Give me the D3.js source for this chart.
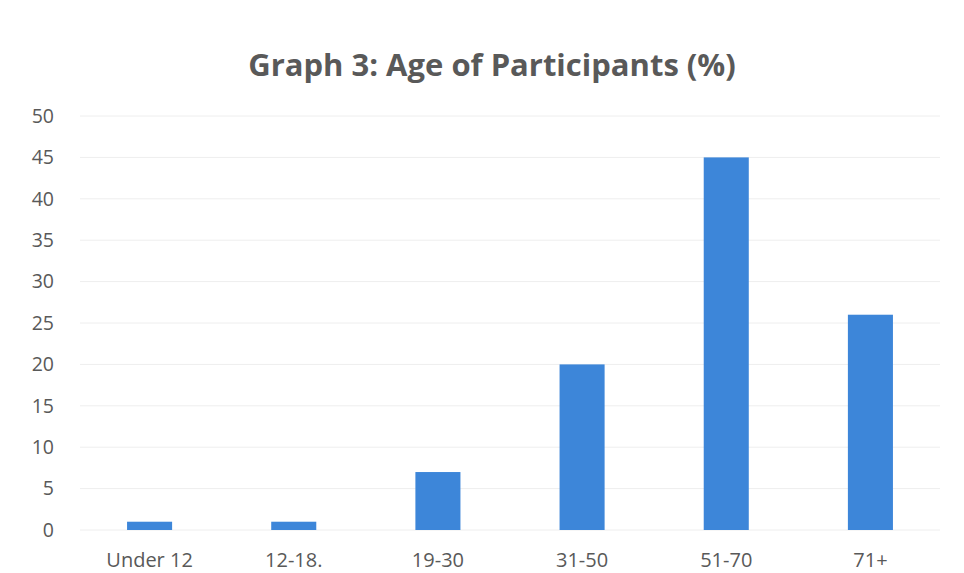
<!DOCTYPE html>
<html>
<head>
<meta charset="utf-8">
<script src="https://cdn.jsdelivr.net/npm/d3@7"></script>
<style>
  body { margin: 0; background: #fff; }
  text { font-family: "Open Sans", "DejaVu Sans", sans-serif; }
</style>
</head>
<body>
<div id="graphique"></div>
<script>
// Données
const ageGroups = ["Under 12", "12-18.", "19-30", "31-50", "51-70", "71+"]
const percentages = [1, 1, 7, 20, 45, 26]
const yTicks = [0, 5, 10, 15, 20, 25, 30, 35, 40, 45, 50]

const width = 964,
    height = 573

let svg = d3.select("#graphique")
    .append("svg")
    .attr("width", width)
    .attr("height", height)

// Echelles
let x = d3.scaleBand()
    .domain(ageGroups)
    .range([77.5, 942.5])
    .paddingInner(0.6875)
    .paddingOuter(0.34375)

let y = d3.scaleLinear()
    .domain([0, 50])
    .range([530, 116])

// Titre
svg.append("text")
    .attr("x", 492)
    .attr("y", 76)
    .attr("text-anchor", "middle")
    .style("font-size", "31px")
    .style("font-weight", "bold")
    .style("fill", "#595959")
    .text("Graph 3: Age of Participants (%)")

// Grille
svg.append("g")
    .selectAll("line")
    .data(yTicks)
    .join("line")
    .attr("x1", 80)
    .attr("x2", 940)
    .attr("y1", d => y(d))
    .attr("y2", d => y(d))
    .attr("stroke", "#eeeeee")
    .attr("stroke-width", 1)

// Barres
svg.append("g")
    .selectAll("rect")
    .data(percentages)
    .join("rect")
    .attr("x", (d, i) => x(ageGroups[i]))
    .attr("width", x.bandwidth())
    .attr("y", d => y(d))
    .attr("height", d => y(0) - y(d))
    .attr("fill", "#3d86d9")

// Axe y
let yAxis = svg.append("g")
    .attr("transform", "translate(54,0)")
    .call(d3.axisLeft(y).tickValues(yTicks).tickSize(0).tickPadding(0))
yAxis.select(".domain").remove()
yAxis.selectAll("text")
    .style("font-size", "19.5px")
    .style("fill", "#595959")
    .style("font-family", "'Open Sans', sans-serif")

// Axe x
let xAxis = svg.append("g")
    .attr("transform", "translate(0,553)")
    .call(d3.axisBottom(x).tickSize(0).tickPadding(0))
xAxis.select(".domain").remove()
xAxis.selectAll("text")
    .style("font-size", "20px")
    .style("fill", "#595959")
    .style("font-family", "'Open Sans', sans-serif")
</script>
</body>
</html>
